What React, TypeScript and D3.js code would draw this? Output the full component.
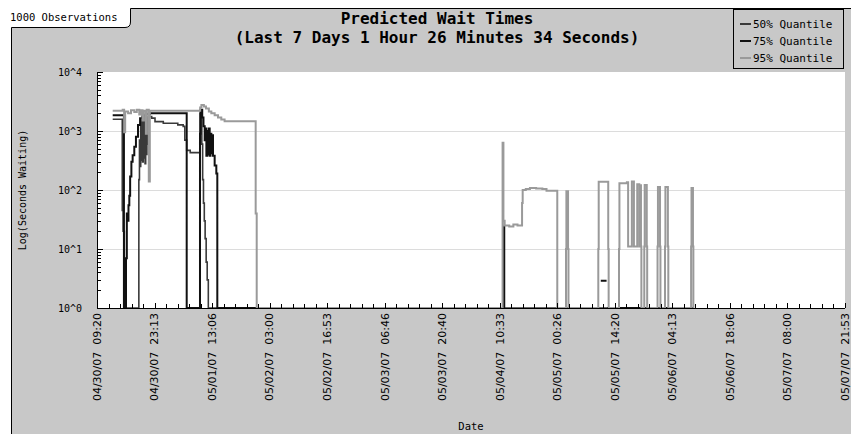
import * as d3 from "d3";
import { useEffect, useRef } from "react";

// time axis runs from the first to the last tick label
const startDate = new Date(2007, 3, 30, 9, 20);
const endDate = new Date(2007, 4, 7, 21, 53);

const xTickLabels = [
  "04/30/07  09:20", "04/30/07  23:13", "05/01/07  13:06", "05/02/07  03:00",
  "05/02/07  16:53", "05/03/07  06:46", "05/03/07  20:40", "05/04/07  10:33",
  "05/05/07  00:26", "05/05/07  14:20", "05/06/07  04:13", "05/06/07  18:06",
  "05/07/07  08:00", "05/07/07  21:53",
];
const yTickValues = [1, 10, 100, 1000, 10000];
const yTickLabels = ["10^0", "10^1", "10^2", "10^3", "10^4"];

// [hours since 04/30/07 09:20, seconds waiting]; NaN = no line
const q50 = [
  [3.79, 1580], [6.1, 45], [6.3, 20], [6.6, 1], [10.1, 150], [10.25, 700],
  [10.4, 250], [10.55, 1500], [10.7, 320], [10.85, 1700], [11.0, 300],
  [11.15, 1600], [11.3, 350], [11.45, 1800], [11.6, 280], [11.75, 1500],
  [11.9, 400], [12.05, 1700], [12.2, 600], [12.4, 1750], [13.2, 1650],
  [14.0, 1440], [16.0, 1350], [19.5, 1270], [20.8, 1200], [21.2, 700],
  [21.65, 470], [22.5, 430], [24.86, 2000], [25.3, 600], [25.5, 150],
  [25.7, 60], [25.9, 30], [26.1, 15], [26.35, 6], [26.6, 3], [26.87, 1],
  [143.95, 1],
];
const q75 = [
  [3.79, 1850], [6.5, 1], [7.0, 7], [7.2, 40], [7.45, 30], [7.6, 55],
  [7.8, 80], [8.0, 170], [8.3, 300], [8.6, 390], [9.0, 540], [9.4, 800],
  [9.9, 1270], [10.4, 1650], [11.0, 1850], [11.8, 1950], [12.8, 2000],
  [21.65, 1], [24.86, 900], [25.0, 2300], [25.4, 1700], [25.7, 1200],
  [26.0, 700], [26.2, 1100], [26.4, 380], [26.6, 1000], [26.8, 400],
  [27.0, 1100], [27.2, 380], [27.4, 900], [27.6, 420], [27.8, 850],
  [28.0, 380], [28.4, 260], [28.8, 190], [29.04, 1], [98.2, 24], [98.3, 1],
  [121.5, NaN], [121.6, 2.9], [123.0, 2.9], [123.05, NaN], [123.1, 1],
  [143.95, 1],
];
const q95 = [
  [3.79, 2200], [6.2, 2300], [6.55, 950], [6.8, 2150], [7.5, 2000],
  [8.2, 2250], [9.0, 2100], [9.6, 2300], [10.2, 1900], [10.6, 2250],
  [11.0, 1500], [11.3, 2200], [11.8, 900], [12.0, 2300], [12.5, 140],
  [12.75, 2200], [24.9, 2500], [25.2, 2750], [25.8, 2600], [26.3, 2400],
  [27.0, 2150], [27.6, 2000], [28.4, 1850], [29.2, 1700], [30.0, 1560],
  [30.8, 1470], [38.3, 40], [38.55, 1], [97.9, 630], [98.1, 30], [98.4, 25],
  [99.5, 24], [100.5, 26], [101.5, 25], [102.6, 60], [102.75, 100],
  [103.5, 104], [104.5, 108], [106.0, 106], [107.5, 104], [108.5, 97],
  [111.1, 1], [113.2, 10], [113.3, 95], [113.7, 10], [113.8, 1],
  [121.0, 10], [121.1, 138], [123.4, 10], [123.5, 1], [126.0, 10],
  [126.1, 130], [127.9, 135], [128.2, 11], [129.1, 140], [129.6, 11],
  [130.4, 125], [130.9, 11], [131.0, 120], [131.3, 11], [131.4, 1],
  [132.1, 11], [132.2, 122], [132.7, 11], [132.8, 1], [135.3, 11],
  [135.4, 112], [135.9, 11], [136.0, 1], [137.1, 11], [137.2, 112],
  [137.8, 11], [137.9, 1], [143.4, 11], [143.5, 108], [143.85, 11],
  [143.95, 1],
];

const seriesNames = ["50% Quantile", "75% Quantile", "95% Quantile"];
const seriesColors = ["#3a3a3a", "#111111", "#9a9a9a"];
const seriesData = [q50, q75, q95];

const App = () => {
  const ref = useRef<SVGSVGElement>(null);

  useEffect(() => {
    document.body.style.margin = "0";
    const W = 851, H = 434;
    const left = 97, right = 845, top = 72, bottom = 308;
    const bg = "#c8c8c8";
    const mono = "'DejaVu Sans Mono', monospace";

    const svg = d3.select(ref.current);
    svg.selectAll("*").remove();

    // frame with the tab in the corner
    svg.append("rect").attr("width", W).attr("height", H).attr("fill", "#fff");
    svg.append("path")
      .attr("d", `M11.5,${H + 2} L11.5,27.5 L125,27.5 Q130.5,27.5 130.5,22 L130.5,8.5 L${W + 2},8.5 L${W + 2},${H + 2} Z`)
      .attr("fill", bg).attr("stroke", "#000");
    svg.append("text").attr("x", 10).attr("y", 21)
      .attr("font-family", mono).attr("font-size", 10.5).text("1000 Observations");

    // title
    const title = svg.append("text").attr("font-family", mono).attr("font-size", 16)
      .attr("font-weight", "bold").attr("text-anchor", "middle");
    title.append("tspan").attr("x", 437).attr("y", 24).text("Predicted Wait Times");
    title.append("tspan").attr("x", 437).attr("y", 43)
      .text("(Last 7 Days 1 Hour 26 Minutes 34 Seconds)");

    const x = d3.scaleTime().domain([startDate, endDate]).range([left, right]);
    const y = d3.scaleLog().domain([1, 10000]).range([bottom, top]);
    const toDate = (h: number) => new Date(+startDate + h * 3600e3);

    svg.append("rect").attr("x", left).attr("y", top)
      .attr("width", right - left).attr("height", bottom - top).attr("fill", "#fff");

    // grid
    svg.append("g").selectAll("line").data(yTickValues.slice(1, 4)).join("line")
      .attr("x1", left).attr("x2", right)
      .attr("y1", d => Math.round(y(d)) + 0.5).attr("y2", d => Math.round(y(d)) + 0.5)
      .attr("stroke", "#dcdcdc");

    // series
    const line = d3.line<number[]>()
      .defined(d => !isNaN(d[1]))
      .x(d => x(toDate(d[0])))
      .y(d => y(d[1]))
      .curve(d3.curveStepAfter);
    seriesData.forEach((s, i) => {
      svg.append("path").datum(s).attr("d", line)
        .attr("fill", "none").attr("stroke", seriesColors[i])
        .attr("stroke-width", i === 0 ? 1.6 : 2);
    });

    // y axis
    const ya = svg.append("g");
    ya.append("line").attr("x1", left + 0.5).attr("x2", left + 0.5)
      .attr("y1", top).attr("y2", bottom + 0.5).attr("stroke", "#000");
    const minor: number[] = [];
    yTickValues.slice(0, 4).forEach(d => {
      for (let k = 2; k < 10; k++) minor.push(d * k);
    });
    ya.selectAll(".mn").data(minor).join("line")
      .attr("x1", left).attr("x2", left + 4)
      .attr("y1", d => Math.round(y(d)) + 0.5).attr("y2", d => Math.round(y(d)) + 0.5)
      .attr("stroke", "#000");
    ya.selectAll(".mj").data(yTickValues).join("line")
      .attr("x1", left).attr("x2", left + 6)
      .attr("y1", d => Math.round(y(d)) + 0.5).attr("y2", d => Math.round(y(d)) + 0.5)
      .attr("stroke", "#000");
    ya.selectAll("text").data(yTickValues).join("text")
      .attr("x", 82).attr("y", d => y(d)).attr("dy", "0.35em")
      .attr("text-anchor", "end").attr("font-family", mono).attr("font-size", 10)
      .text((_, i) => yTickLabels[i]);

    // x axis
    const xa = svg.append("g");
    const n = xTickLabels.length - 1;
    const step = (+endDate - +startDate) / n;
    const tickDates = xTickLabels.map((_, i) => new Date(+startDate + i * step));
    const minorDates: Date[] = [];
    for (let i = 0; i < n; i++) {
      for (let k = 1; k < 5; k++) minorDates.push(new Date(+startDate + i * step + (k * step) / 5));
    }
    xa.append("line").attr("x1", left).attr("x2", right)
      .attr("y1", bottom + 0.5).attr("y2", bottom + 0.5).attr("stroke", "#000");
    xa.selectAll(".mn").data(minorDates).join("line")
      .attr("x1", d => Math.round(x(d)) + 0.5).attr("x2", d => Math.round(x(d)) + 0.5)
      .attr("y1", bottom).attr("y2", bottom - 4).attr("stroke", "#000");
    xa.selectAll(".mj").data(tickDates).join("line")
      .attr("x1", d => Math.round(x(d)) + 0.5).attr("x2", d => Math.round(x(d)) + 0.5)
      .attr("y1", bottom).attr("y2", bottom - 5).attr("stroke", "#000");
    xa.selectAll("text").data(tickDates).join("text")
      .attr("transform", d => `translate(${x(d)},313) rotate(-90)`)
      .attr("dy", "0.35em").attr("text-anchor", "end")
      .attr("font-family", "'DejaVu Sans', sans-serif").attr("font-size", 11)
      .style("white-space", "pre")
      .text((_, i) => xTickLabels[i]);

    // axis titles
    svg.append("text").attr("x", (left + right) / 2).attr("y", 430)
      .attr("text-anchor", "middle").attr("font-family", mono).attr("font-size", 10.5)
      .text("Date");
    svg.append("text").attr("transform", `translate(22,${(top + bottom) / 2}) rotate(-90)`)
      .attr("dy", "0.35em").attr("text-anchor", "middle")
      .attr("font-family", mono).attr("font-size", 10)
      .text("Log(Seconds Waiting)");

    // legend
    const lg = svg.append("g");
    lg.append("rect").attr("x", 733.5).attr("y", 9.5).attr("width", 110).attr("height", 59)
      .attr("fill", bg).attr("stroke", "#000");
    seriesNames.forEach((name, i) => {
      const ly = 24 + i * 17;
      lg.append("line").attr("x1", 740).attr("x2", 751).attr("y1", ly).attr("y2", ly)
        .attr("stroke", seriesColors[i]).attr("stroke-width", 2);
      lg.append("text").attr("x", 753).attr("y", ly).attr("dy", "0.35em")
        .attr("font-family", mono).attr("font-size", 11).text(name);
    });
  }, []);

  return <svg ref={ref} width={851} height={434} style={{ display: "block" }} />;
};

export default App;
